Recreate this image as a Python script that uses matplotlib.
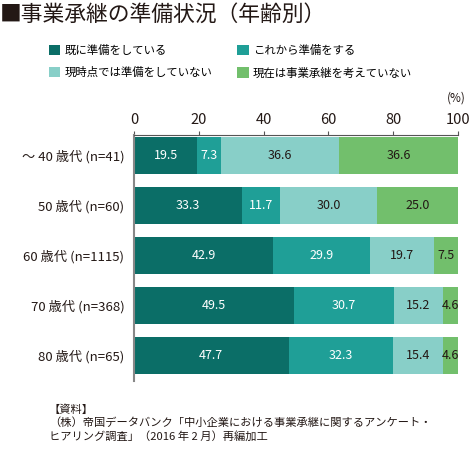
import matplotlib.pyplot as plt
from matplotlib.patches import Patch

plt.rcParams['font.family'] = ['Noto Sans CJK JP', 'DejaVu Sans']

groups = ['～ 40 歳代 (n=41)', '50 歳代 (n=60)', '60 歳代 (n=1115)',
          '70 歳代 (n=368)', '80 歳代 (n=65)']
series_names = ['既に準備をしている', 'これから準備をする',
                '現時点では準備をしていない', '現在は事業承継を考えていない']
already = [19.5, 33.3, 42.9, 49.5, 47.7]
planning = [7.3, 11.7, 29.9, 30.7, 32.3]
not_yet = [36.6, 30.0, 19.7, 15.2, 15.4]
no_plan = [36.6, 25.0, 7.5, 4.6, 4.6]
ticks = [0, 20, 40, 60, 80, 100]

colors = ['#0b6e67', '#1f9f97', '#88cfc8', '#72bf6c']
text_colors = ['white', 'white', '#231815', '#231815']

fig = plt.figure(figsize=(4.75, 4.75), dpi=100)
ax = fig.add_axes([134 / 475, 1 - 380.5 / 475, 324 / 475, 245.5 / 475])

ypos = list(range(len(groups)))
left = [0] * len(groups)
for vals, c, tc in zip([already, planning, not_yet, no_plan], colors, text_colors):
    ax.barh(ypos, vals, left=left, height=0.74, color=c, edgecolor='none')
    for i, v in enumerate(vals):
        ax.text(left[i] + v / 2, i, f'{v:.1f}', ha='center', va='center',
                fontsize=9, color=tc, clip_on=False)
    left = [l + v for l, v in zip(left, vals)]

ax.set_xlim(0, 100)
ax.set_ylim(4.5, -0.41)
ax.set_yticks(ypos)
ax.set_yticklabels(groups, fontsize=9.5, color='#231815')
ax.tick_params(axis='y', length=0, pad=7)
ax.xaxis.tick_top()
ax.set_xticks(ticks)
ax.set_xticklabels([str(t) for t in ticks], fontsize=10.5, color='#231815')
ax.tick_params(axis='x', direction='out', length=3, width=0.8, color='#555555', pad=3)
for s in ['right', 'bottom']:
    ax.spines[s].set_visible(False)
ax.spines['top'].set_color('#555555')
ax.spines['left'].set_color('#888888')
ax.spines['left'].set_linewidth(1.5)

fig.text(456 / 475, 1 - 98 / 475, '(%)', ha='center', va='center', fontsize=8.5, color='#231815')

fig.text(0, 1 - 15 / 475, '■事業承継の準備状況（年齢別）', ha='left', va='center',
         fontsize=15.7, color='#231815')

handles = [Patch(facecolor=c, edgecolor='none') for c in colors]
order = [0, 2, 1, 3]
fig.legend([handles[i] for i in order], [series_names[i] for i in order],
           ncol=2, loc='upper left', bbox_to_anchor=(49 / 475, 1 - 45 / 475),
           frameon=False, fontsize=8.2, handlelength=1.0, handleheight=1.0,
           handletextpad=0.35, labelspacing=0.95, columnspacing=2.2,
           borderaxespad=0, borderpad=0)

source = ('【資料】\n'
          '（株）帝国データバンク「中小企業における事業承継に関するアンケート・\n'
          'ヒアリング調査」（2016 年 2 月）再編加工')
fig.text(49 / 475, 1 - 404 / 475, source, ha='left', va='top', fontsize=8.1,
         linespacing=1.35, color='#231815')

fig.savefig('out.png', dpi=100)
